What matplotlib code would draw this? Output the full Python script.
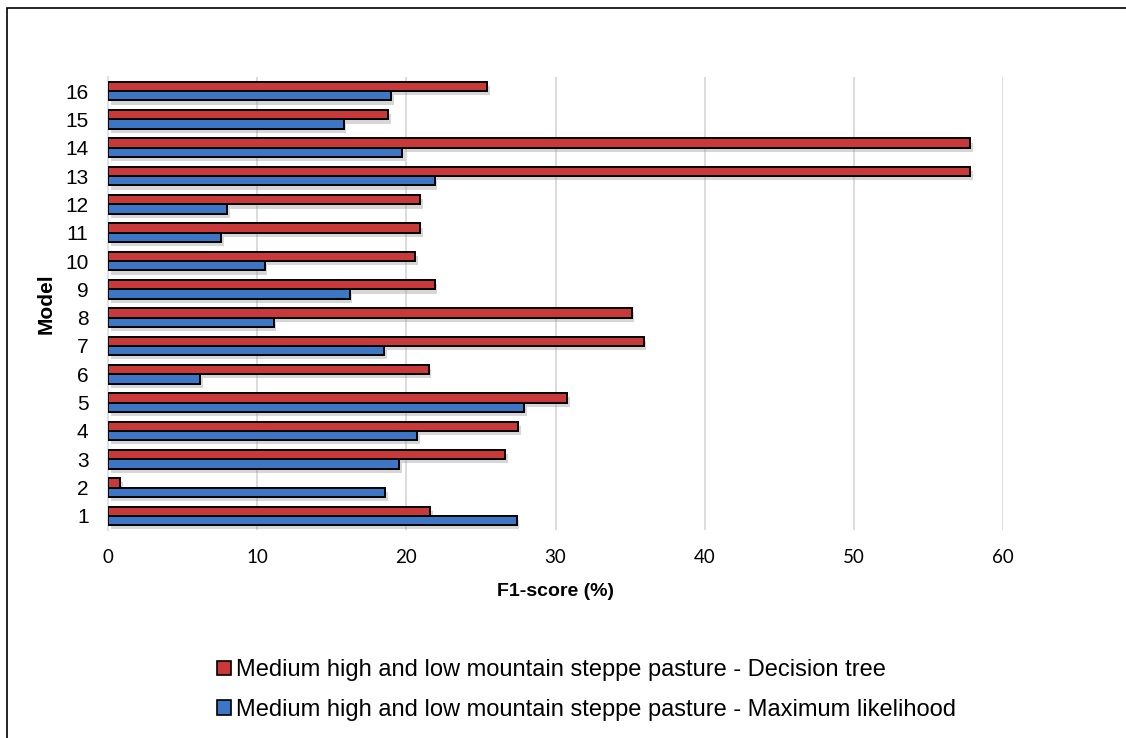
import numpy as np
import matplotlib.pyplot as plt
from matplotlib.patches import Rectangle
import matplotlib.patheffects as pe

# Data
models = [str(i) for i in range(1, 17)]
decision_tree = [21.6, 0.8, 26.6, 27.5, 30.8, 21.5, 35.9, 35.1,
                 21.9, 20.6, 20.9, 20.9, 57.8, 57.8, 18.8, 25.4]
max_likelihood = [27.4, 18.6, 19.5, 20.7, 27.9, 6.2, 18.5, 11.1,
                  16.2, 10.5, 7.6, 8.0, 21.9, 19.7, 15.8, 19.0]
x_ticks = [0, 10, 20, 30, 40, 50, 60]

label_dt = "Medium high and low mountain steppe pasture - Decision tree"
label_ml = "Medium high and low mountain steppe pasture - Maximum likelihood"

red = "#C9393A"
blue = "#3C76C4"

plt.rcParams['font.family'] = ['Liberation Sans', 'DejaVu Sans']

fig = plt.figure(figsize=(11.26, 7.38), dpi=100)
ax = fig.add_axes([108 / 1126, 1 - 530 / 738, (1003 - 108) / 1126, (530 - 77) / 738])

y = np.arange(len(models))
h = 0.33
shadow = [pe.SimplePatchShadow(offset=(2, -3), shadow_rgbFace='0.55', alpha=0.35), pe.Normal()]

ax.barh(y + h / 2, decision_tree, height=h, color=red, edgecolor='black', linewidth=1.4,
        path_effects=shadow, zorder=3)
ax.barh(y - h / 2, max_likelihood, height=h, color=blue, edgecolor='black', linewidth=1.4,
        path_effects=shadow, zorder=3)

ax.set_xlim(0, 60)
ax.set_ylim(-0.5, len(models) - 0.5)
ax.set_xticks(x_ticks)
ax.set_xticklabels([str(t) for t in x_ticks], family=['Lato', 'DejaVu Sans'], fontsize=13.5)
ax.set_yticks(y)
ax.set_yticklabels(models, fontsize=15)
ax.tick_params(axis='both', length=0)
ax.tick_params(axis='x', pad=14)
ax.tick_params(axis='y', pad=14)

ax.grid(axis='x', color='#D9D9D9', linewidth=1.3, zorder=0)
for s in ['top', 'right', 'bottom']:
    ax.spines[s].set_visible(False)
ax.spines['left'].set_color('#DCE3EC')
ax.spines['left'].set_linewidth(1.5)

ax.set_xlabel("F1-score (%)", fontsize=14, fontweight='bold', labelpad=12)
ax.set_ylabel("Model", fontsize=15, fontweight='bold', labelpad=7)

# legend below the chart
handles = [Rectangle((0, 0), 1, 1, facecolor=red, edgecolor='black', linewidth=1.2),
           Rectangle((0, 0), 1, 1, facecolor=blue, edgecolor='black', linewidth=1.2)]
fig.legend(handles, [label_dt, label_ml], loc='upper left',
           bbox_to_anchor=(196 / 1126, 1 - 638 / 738), frameon=False, fontsize=17,
           handlelength=0.58, handleheight=0.58, handletextpad=0.2, labelspacing=0.75)

# chart border
fig.add_artist(Rectangle((7 / 1126, -0.1), 1.2, 1 - 8 / 738 + 0.1, transform=fig.transFigure,
                         fill=False, edgecolor='black', linewidth=1.2))

fig.savefig("out.png", dpi=100)
